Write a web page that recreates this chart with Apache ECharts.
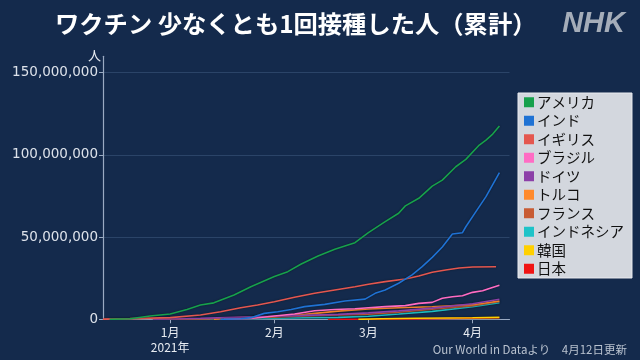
<!DOCTYPE html>
<html><head><meta charset="utf-8">
<script src="https://cdn.jsdelivr.net/npm/echarts@6/dist/echarts.min.js"></script>
<style>html,body{margin:0;padding:0;background:#142a4c}#c{width:640px;height:360px}</style>
</head><body><div id="c"></div>
<script>
// ---- data (values in millions of people) ----
const seriesNames = ['アメリカ','インド','イギリス','ブラジル','ドイツ','トルコ','フランス','インドネシア','韓国','日本'];
const seriesColors = ['#17a14c','#1f72d4','#e4574f','#ff6cc4','#8c40a8','#ff8a2c','#c85c34','#1ec3c8','#ffd000','#f01414'];

const america = [['2020-12-14',0],['2020-12-20',0.3],['2020-12-26',2.0],['2021-01-01',3.2],['2021-01-06',6.0],['2021-01-10',8.7],['2021-01-14',10.0],['2021-01-20',14.8],['2021-01-25',19.8],['2021-02-01',26.0],['2021-02-05',29.0],['2021-02-09',33.6],['2021-02-14',38.5],['2021-02-19',42.6],['2021-02-25',46.6],['2021-03-01',52.7],['2021-03-06',59.4],['2021-03-10',64.5],['2021-03-12',69.0],['2021-03-16',73.6],['2021-03-20',81.0],['2021-03-23',84.7],['2021-03-27',92.8],['2021-03-30',97.3],['2021-04-03',106.0],['2021-04-05',109.0],['2021-04-07',112.7],['2021-04-09',117.6]];
const india = [['2021-01-16',0],['2021-01-22',0.3],['2021-01-25',1.0],['2021-01-29',3.6],['2021-02-02',4.6],['2021-02-06',6.0],['2021-02-10',7.7],['2021-02-16',9.1],['2021-02-22',11.1],['2021-02-28',12.3],['2021-03-03',15.8],['2021-03-06',17.8],['2021-03-10',21.9],['2021-03-14',27.0],['2021-03-17',32.0],['2021-03-20',37.7],['2021-03-23',44.0],['2021-03-26',51.9],['2021-03-29',52.7],['2021-03-30',56.3],['2021-04-02',65.5],['2021-04-05',74.6],['2021-04-09',89.2]];
const uk = [['2020-12-12',0.1],['2020-12-20',0.4],['2021-01-01',1.0],['2021-01-10',2.6],['2021-01-16',4.6],['2021-01-22',7.0],['2021-01-27',8.7],['2021-02-01',10.7],['2021-02-07',13.4],['2021-02-13',15.8],['2021-02-19',17.8],['2021-02-25',19.8],['2021-03-01',21.3],['2021-03-06',22.9],['2021-03-12',24.5],['2021-03-16',26.3],['2021-03-20',28.6],['2021-03-24',30.0],['2021-03-28',31.2],['2021-04-01',31.8],['2021-04-08',32.0]];
const brazil = [['2021-01-17',0],['2021-01-25',0.5],['2021-02-01',2.0],['2021-02-07',3.2],['2021-02-13',5.2],['2021-02-19',6.0],['2021-02-25',6.4],['2021-03-01',7.0],['2021-03-06',7.7],['2021-03-12',8.3],['2021-03-16',9.7],['2021-03-20',10.3],['2021-03-23',12.8],['2021-03-26',13.7],['2021-03-29',14.3],['2021-04-01',16.4],['2021-04-04',17.4],['2021-04-06',18.8],['2021-04-09',20.7]];
const germany = [['2020-12-27',0],['2021-01-01',0.2],['2021-01-10',0.6],['2021-01-20',1.2],['2021-02-01',1.9],['2021-02-10',2.4],['2021-02-20',3.0],['2021-03-01',3.9],['2021-03-10',5.1],['2021-03-20',6.8],['2021-04-01',9.5],['2021-04-09',12.2]];
const turkey = [['2021-01-14',0],['2021-01-20',0.9],['2021-02-01',1.6],['2021-02-10',3.0],['2021-02-20',5.0],['2021-03-01',6.3],['2021-03-10',7.0],['2021-03-20',7.6],['2021-04-01',8.9],['2021-04-09',11.1]];
const france = [['2020-12-27',0],['2021-01-10',0.2],['2021-01-20',0.8],['2021-02-01',1.5],['2021-02-10',2.0],['2021-02-20',2.6],['2021-03-01',3.1],['2021-03-10',4.3],['2021-03-20',6.2],['2021-04-01',8.3],['2021-04-09',10.8]];
const indonesia = [['2021-01-13',0],['2021-01-20',0.2],['2021-02-01',0.6],['2021-02-10',0.9],['2021-02-20',1.2],['2021-03-01',1.9],['2021-03-10',3.2],['2021-03-20',4.8],['2021-04-01',7.6],['2021-04-09',10.1]];
const korea = [['2021-02-26',0],['2021-03-05',0.3],['2021-03-15',0.6],['2021-03-25',0.8],['2021-04-01',0.9],['2021-04-09',1.2]];
const japan = [['2021-02-17',0],['2021-02-25',0.03],['2021-03-05',0.05],['2021-03-15',0.2],['2021-03-25',0.5],['2021-04-01',0.7],['2021-04-09',0.95]];

const yTicks = [0, 50, 100, 150];           // millions
const tickDates = ['2021-01-01','2021-02-01','2021-03-01','2021-04-01'];
const tickLabels = ['1月\n2021年','2月','3月','4月'];
const axisStart = '2020-12-12', axisEnd = '2021-04-12';

// ---- build ----
const seriesData = [america, india, uk, brazil, germany, turkey, france, indonesia, korea, japan];
const categories = [];
for (let t = Date.parse(axisStart + 'T00:00:00Z'); t <= Date.parse(axisEnd + 'T00:00:00Z'); t += 86400000) {
  categories.push(new Date(t).toISOString().slice(0, 10));
}
const FONT = '"Noto Sans CJK JP", "Noto Sans", sans-serif';
const series = [];
for (let i = seriesNames.length - 1; i >= 0; i--) {
  series.push({
    name: seriesNames[i], type: 'line', data: seriesData[i], showSymbol: false,
    color: seriesColors[i],
    lineStyle: { width: 1.6, color: seriesColors[i], shadowColor: 'rgba(0,0,0,0.45)', shadowBlur: 2 },
    emphasis: { disabled: true }
  });
}
const chart = echarts.init(document.getElementById('c'), null, { renderer: 'canvas' });
chart.setOption({
  backgroundColor: '#142a4c',
  animation: false,
  textStyle: { fontFamily: FONT },
  title: [
    { text: 'ワクチン 少なくとも1回接種した人（累計）', left: 50, top: 7,
      textStyle: { color: '#ffffff', fontSize: 24.3, fontWeight: 'bold', fontFamily: FONT } },
    { text: 'NHK', right: 10, top: 4,
      textStyle: { color: 'rgba(190,196,205,0.85)', fontSize: 29, fontWeight: 'bold', fontStyle: 'italic', fontFamily: 'Liberation Sans, sans-serif' } },
    { text: 'Our World in Dataより　4月12日更新', right: 8, top: 339,
      textStyle: { color: '#b9c2cf', fontSize: 11.5, fontWeight: 'normal', fontFamily: FONT } }
  ],
  legend: {
    data: seriesNames, orient: 'vertical', left: 518, top: 93,
    backgroundColor: '#d3d7de', borderColor: '#e9ebef', borderWidth: 1,
    padding: [2, 8, 2, 6], itemWidth: 10, itemHeight: 10, itemGap: 4,
    icon: 'rect', selectedMode: false,
    textStyle: { color: '#111', fontSize: 14.5, lineHeight: 14, fontFamily: FONT, padding: [0, 0, 0, -2] }
  },
  grid: { left: 103, right: 130.5, top: 56.3, bottom: 40.7, containLabel: false },
  xAxis: {
    type: 'category', data: categories, boundaryGap: false,
    axisLine: { lineStyle: { color: '#9aaac2', width: 1.2 } },
    axisTick: { interval: (idx, v) => tickDates.includes(v), length: 4, lineStyle: { color: '#9aaac2' } },
    axisLabel: { interval: (idx, v) => tickDates.includes(v), color: '#e8ecf2', fontSize: 12, lineHeight: 15, margin: 6,
      formatter: v => { const k = tickDates.indexOf(v); return k >= 0 ? tickLabels[k] : ''; } },
    splitLine: { show: false }
  },
  yAxis: {
    type: 'value', min: 0, max: 160, interval: 50,
    name: '人', nameLocation: 'end', nameGap: 1,
    nameTextStyle: { color: '#e8ecf2', fontSize: 13, align: 'right', verticalAlign: 'middle', padding: [0, 2, 0, 0] },
    axisLine: { show: true, lineStyle: { color: '#9aaac2', width: 1.2 } },
    axisTick: { show: true, length: 4, customValues: yTicks, lineStyle: { color: '#9aaac2' } },
    axisLabel: { color: '#dde2ea', fontSize: 13.5, margin: 5, customValues: yTicks, fontFamily: '"DejaVu Sans", sans-serif',
      formatter: v => yTicks.includes(v) ? (v * 1e6).toLocaleString('en-US') : '' },
    splitLine: { show: true, lineStyle: { color: ['#2b4468','#2b4468','#2b4468','#2b4468','rgba(0,0,0,0)'], width: 1 } }
  },
  series: series
});
</script></body></html>
